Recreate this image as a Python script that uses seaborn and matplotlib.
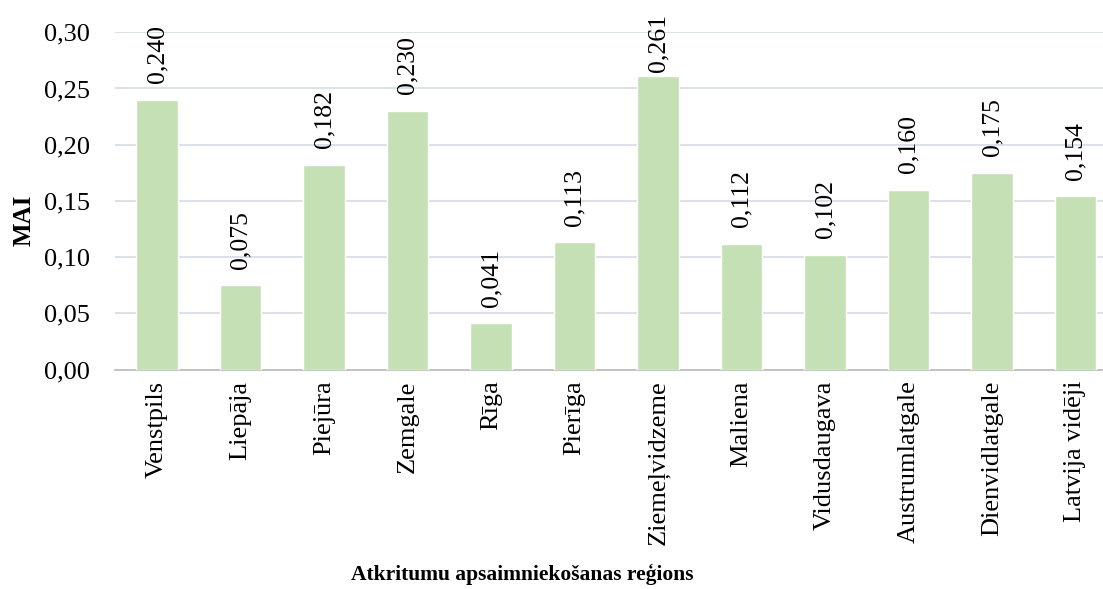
import numpy as np
import pandas as pd
import matplotlib
matplotlib.use("Agg")
import matplotlib.pyplot as plt
import seaborn as sns

regions = ["Venstpils", "Liepāja", "Piejūra", "Zemgale", "Rīga", "Pierīga",
           "Ziemeļvidzeme", "Maliena", "Vidusdaugava", "Austrumlatgale",
           "Dienvidlatgale", "Latvija vidēji"]
mai = [0.240, 0.075, 0.182, 0.230, 0.041, 0.113,
       0.261, 0.112, 0.102, 0.160, 0.175, 0.154]
yticks = [0.00, 0.05, 0.10, 0.15, 0.20, 0.25, 0.30]

sns.set_style("white")
plt.rcParams["font.family"] = ["Liberation Serif", "DejaVu Serif"]
plt.rcParams["text.color"] = "black"
plt.rcParams["xtick.color"] = "black"
plt.rcParams["ytick.color"] = "black"

W, H = 1103, 589
fig = plt.figure(figsize=(W / 100, H / 100), dpi=100)
# plot area runs a bit past the right edge, as in the original
ax = fig.add_axes([115.25 / W, 1 - 369.5 / H, (1117.25 - 115.25) / W, (369.5 - 32.3) / H])

df = pd.DataFrame({"region": regions, "MAI": mai})
sns.barplot(data=df, x="region", y="MAI", color="#c5e0b4", saturation=1,
            width=0.5, ax=ax, zorder=3)

labels = []
for i, v in enumerate(mai):
    t = ax.annotate(f"{v:.3f}".replace(".", ","), (i, v), xytext=(0, 12),
                    textcoords="offset points", rotation=90, ha="center",
                    va="bottom", fontsize=18.5)
    labels.append(t)

ax.set_ylim(0, 0.30)
ax.set_xlim(-0.5, len(regions) - 0.5)
ax.set_yticks(yticks)
ax.set_yticklabels([f"{t:.2f}".replace(".", ",") for t in yticks], fontsize=19)
ax.tick_params(axis="x", rotation=90, labelsize=19, length=0, pad=8)
ax.tick_params(axis="y", length=0, pad=18)
ax.yaxis.grid(True, color="#d9dde6", linewidth=1.3, zorder=0)
ax.set_axisbelow(True)
for s in ["top", "right", "left"]:
    ax.spines[s].set_visible(False)
ax.spines["bottom"].set_color("#bfbfbf")
ax.spines["bottom"].set_linewidth(1.3)

ax.set_ylabel("")
ax.set_xlabel("")
fig.text(24 / W, 1 - 220 / H, "MAI", rotation=90, ha="center", va="center",
         fontsize=18, fontweight="bold")
fig.text(522 / W, 1 - 574 / H, "Atkritumu apsaimniekošanas reģions",
         ha="center", va="center", fontsize=15.5, fontweight="bold")

# like the original, labels that would run off the top get pushed down
fig.canvas.draw()
r = fig.canvas.get_renderer()
top_limit = H - 14
for t in labels:
    bb = t.get_window_extent(r)
    if bb.y1 > top_limit:
        dy_pt = (bb.y1 - top_limit) * 72 / fig.dpi
        t.set_position((0, 12 - dy_pt))

fig.savefig("out.png", dpi=100)
